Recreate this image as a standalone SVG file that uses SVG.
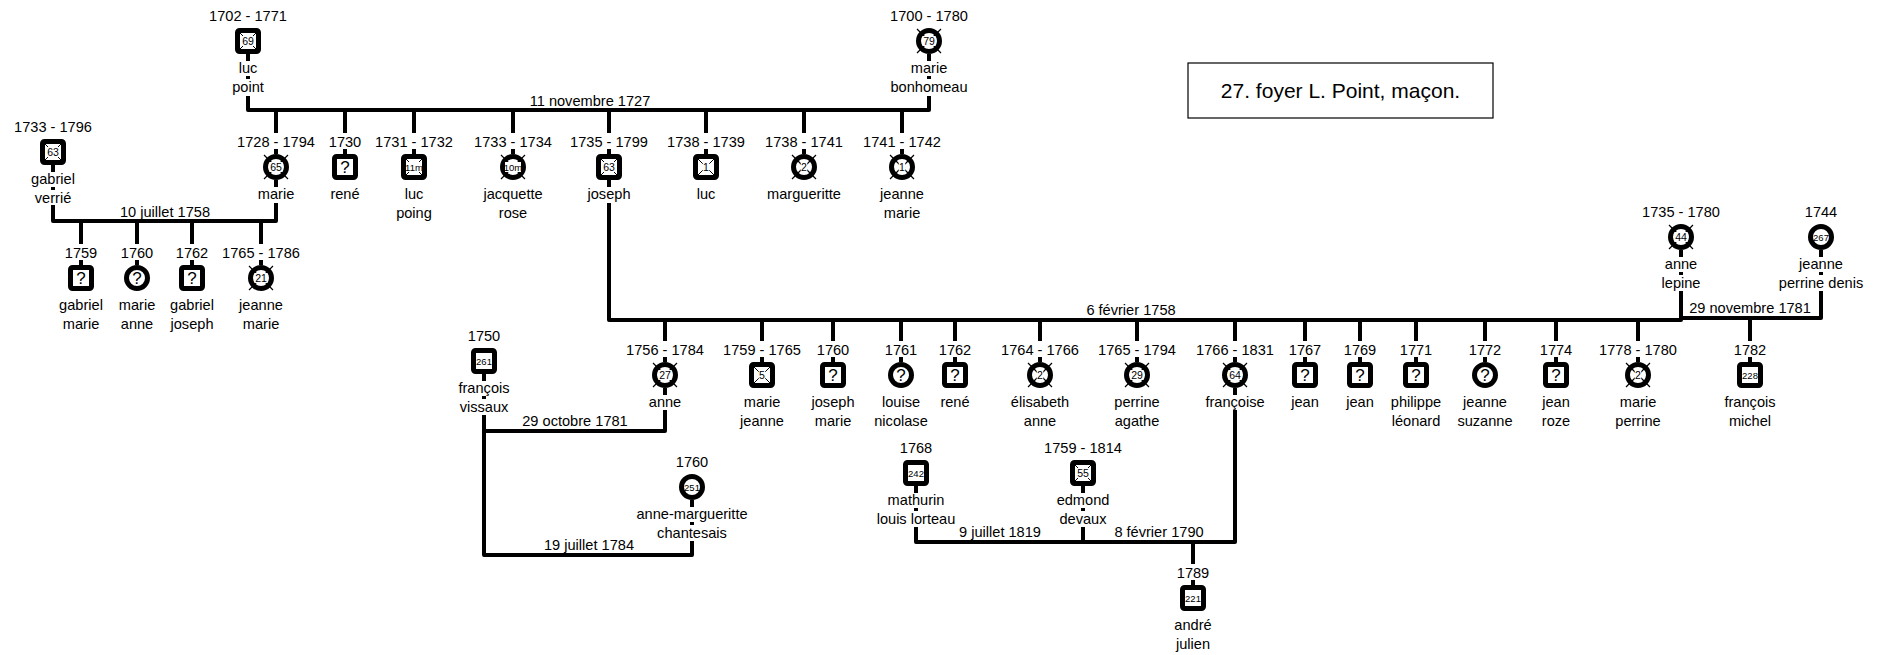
<svg xmlns="http://www.w3.org/2000/svg" width="1879" height="655" viewBox="0 0 1879 655">
<style>
.t{font-family:"Liberation Sans",Arial,sans-serif;font-size:14.6px;text-anchor:middle;fill:#000}
.n{font-family:"Liberation Sans",Arial,sans-serif;font-size:10.5px;text-anchor:middle;fill:#000}
.n3{font-size:9.5px}
.q{font-family:"Liberation Sans",Arial,sans-serif;font-size:17px;text-anchor:middle;fill:#000}
.ttl{font-family:"Liberation Sans",Arial,sans-serif;font-size:21px;text-anchor:middle;fill:#000}
.ln{stroke:#000;stroke-width:4;fill:none;stroke-linejoin:round}
.nb{fill:#fff}
</style>
<defs>
<rect id="sq" x="-10.5" y="-10.5" width="21" height="21" rx="2" fill="#fff" stroke="#000" stroke-width="5"/>
<circle id="ci" r="10.5" fill="#fff" stroke="#000" stroke-width="5"/>
<path id="sqx" d="M-8,-8L8,8M8,-8L-8,8" stroke="#000" stroke-width="1"/>
<path id="cix" d="M-12,-12L12,12M12,-12L-12,12" stroke="#000" stroke-width="1.2"/>
</defs>
<rect width="1879" height="655" fill="#fff"/>

<g id="title">
<rect x="1188" y="63" width="305" height="55" fill="#fff" stroke="#000" stroke-width="1.2"/>
<text class="ttl" x="1340.5" y="98">27. foyer L. Point, maçon.</text>
</g>

<g id="connectors">
<path class="ln" d="M248,54V61M248,76V79M929,54V61M929,76V79M248,96V110H929V96"/>
<path class="ln" d="M276,110V133M345,110V133M414,110V133M513,110V133M609,110V133M706,110V133M804,110V133M902,110V133"/>
<path class="ln" d="M276,149V154M345,149V154M414,149V154M513,149V154M609,149V154M706,149V154M804,149V154M902,149V154"/>
<path class="ln" d="M53,165V172M53,187V190M276,180V187M53,205V221H276V203"/>
<path class="ln" d="M81,221V244M137,221V244M192,221V244M261,221V244M81,260V265M137,260V265M192,260V265M261,260V265"/>
<path class="ln" d="M609,180V187M609,203V320H1681V291M1681,250V257M1681,272V275"/>
<path class="ln" d="M1681,318H1821V291M1821,250V257M1821,272V275"/>
<path class="ln" d="M665,320V341M762,320V341M833,320V341M901,320V341M955,320V341M1040,320V341M1137,320V341M1235,320V341M1305,320V341M1360,320V341M1416,320V341M1485,320V341M1556,320V341M1638,320V341M1750,318V341"/>
<path class="ln" d="M665,357V362M762,357V362M833,357V362M901,357V362M955,357V362M1040,357V362M1137,357V362M1235,357V362M1305,357V362M1360,357V362M1416,357V362M1485,357V362M1556,357V362M1638,357V362M1750,357V362"/>
<path class="ln" d="M484,374V381M484,396V399M484,415V555H692V541M692,500V507M692,522V525"/>
<path class="ln" d="M665,388V395M484,431H665V410"/>
<path class="ln" d="M916,486V493M916,508V511M1083,486V493M1083,508V511M1235,388V395M916,527V542H1235V410M1083,527V542"/>
<path class="ln" d="M1193,542V564M1193,580V585"/>
<text class="t" x="590" y="105.5">11 novembre 1727</text>
<text class="t" x="165" y="216.5">10 juillet 1758</text>
<text class="t" x="1131" y="315">6 février 1758</text>
<text class="t" x="1750" y="313">29 novembre 1781</text>
<text class="t" x="575" y="426">29 octobre 1781</text>
<text class="t" x="589" y="550">19 juillet 1784</text>
<text class="t" x="1000" y="537">9 juillet 1819</text>
<text class="t" x="1159" y="537">8 février 1790</text>
</g>

<g id="luc-point" transform="translate(248,41)"><text class="t" y="-20">1702 - 1771</text><use href="#sq"/><use href="#sqx"/><rect class="nb" x="-6.5" y="-5" width="13" height="10"/><text class="n" y="3.8">69</text><text class="t" y="32">luc</text><text class="t" y="51">point</text></g>
<g id="marie-bonhomeau" transform="translate(929,41)"><text class="t" y="-20">1700 - 1780</text><use href="#ci"/><use href="#cix"/><rect class="nb" x="-6.5" y="-5" width="13" height="10"/><text class="n" y="3.8">79</text><text class="t" y="32">marie</text><text class="t" y="51">bonhomeau</text></g>
<g id="gabriel-verrie" transform="translate(53,152)"><text class="t" y="-20">1733 - 1796</text><use href="#sq"/><use href="#sqx"/><rect class="nb" x="-6.5" y="-5" width="13" height="10"/><text class="n" y="3.8">63</text><text class="t" y="32">gabriel</text><text class="t" y="51">verrié</text></g>
<g id="marie" transform="translate(276,167)"><text class="t" y="-20">1728 - 1794</text><use href="#ci"/><use href="#cix"/><rect class="nb" x="-6.5" y="-5" width="13" height="10"/><text class="n" y="3.8">65</text><text class="t" y="32">marie</text></g>
<g id="rene-1730" transform="translate(345,167)"><text class="t" y="-20">1730</text><use href="#sq"/><text class="q" y="6">?</text><text class="t" y="32">rené</text></g>
<g id="luc-poing" transform="translate(414,167)"><text class="t" y="-20">1731 - 1732</text><use href="#sq"/><use href="#sqx"/><rect class="nb" x="-8" y="-5" width="16" height="10"/><text class="n n3" y="3.5">11m</text><text class="t" y="32">luc</text><text class="t" y="51">poing</text></g>
<g id="jacquette-rose" transform="translate(513,167)"><text class="t" y="-20">1733 - 1734</text><use href="#ci"/><use href="#cix"/><rect class="nb" x="-8" y="-5" width="16" height="10"/><text class="n n3" y="3.5">10m</text><text class="t" y="32">jacquette</text><text class="t" y="51">rose</text></g>
<g id="joseph" transform="translate(609,167)"><text class="t" y="-20">1735 - 1799</text><use href="#sq"/><use href="#sqx"/><rect class="nb" x="-6.5" y="-5" width="13" height="10"/><text class="n" y="3.8">63</text><text class="t" y="32">joseph</text></g>
<g id="luc" transform="translate(706,167)"><text class="t" y="-20">1738 - 1739</text><use href="#sq"/><use href="#sqx"/><rect class="nb" x="-3.3" y="-5" width="6.6" height="10"/><text class="n" y="3.8">1</text><text class="t" y="32">luc</text></g>
<g id="margueritte" transform="translate(804,167)"><text class="t" y="-20">1738 - 1741</text><use href="#ci"/><use href="#cix"/><rect class="nb" x="-3.3" y="-5" width="6.6" height="10"/><text class="n" y="3.8">2</text><text class="t" y="32">margueritte</text></g>
<g id="jeanne-marie-1741" transform="translate(902,167)"><text class="t" y="-20">1741 - 1742</text><use href="#ci"/><use href="#cix"/><rect class="nb" x="-3.3" y="-5" width="6.6" height="10"/><text class="n" y="3.8">1</text><text class="t" y="32">jeanne</text><text class="t" y="51">marie</text></g>

<g id="gabriel-marie" transform="translate(81,278)"><text class="t" y="-20">1759</text><use href="#sq"/><text class="q" y="6">?</text><text class="t" y="32">gabriel</text><text class="t" y="51">marie</text></g>
<g id="marie-anne" transform="translate(137,278)"><text class="t" y="-20">1760</text><use href="#ci"/><text class="q" y="6">?</text><text class="t" y="32">marie</text><text class="t" y="51">anne</text></g>
<g id="gabriel-joseph" transform="translate(192,278)"><text class="t" y="-20">1762</text><use href="#sq"/><text class="q" y="6">?</text><text class="t" y="32">gabriel</text><text class="t" y="51">joseph</text></g>
<g id="jeanne-marie-1765" transform="translate(261,278)"><text class="t" y="-20">1765 - 1786</text><use href="#ci"/><use href="#cix"/><rect class="nb" x="-6.5" y="-5" width="13" height="10"/><text class="n" y="3.8">21</text><text class="t" y="32">jeanne</text><text class="t" y="51">marie</text></g>

<g id="anne-lepine" transform="translate(1681,237)"><text class="t" y="-20">1735 - 1780</text><use href="#ci"/><use href="#cix"/><rect class="nb" x="-6.5" y="-5" width="13" height="10"/><text class="n" y="3.8">44</text><text class="t" y="32">anne</text><text class="t" y="51">lepine</text></g>
<g id="jeanne-perrine-denis" transform="translate(1821,237)"><text class="t" y="-20">1744</text><use href="#ci"/><text class="n n3" y="3.5">267</text><text class="t" y="32">jeanne</text><text class="t" y="51">perrine denis</text></g>

<g id="francois-vissaux" transform="translate(484,361)"><text class="t" y="-20">1750</text><use href="#sq"/><text class="n n3" y="3.5">261</text><text class="t" y="32">françois</text><text class="t" y="51">vissaux</text></g>
<g id="anne" transform="translate(665,375)"><text class="t" y="-20">1756 - 1784</text><use href="#ci"/><use href="#cix"/><rect class="nb" x="-6.5" y="-5" width="13" height="10"/><text class="n" y="3.8">27</text><text class="t" y="32">anne</text></g>
<g id="marie-jeanne" transform="translate(762,375)"><text class="t" y="-20">1759 - 1765</text><use href="#sq"/><use href="#sqx"/><rect class="nb" x="-3.3" y="-5" width="6.6" height="10"/><text class="n" y="3.8">5</text><text class="t" y="32">marie</text><text class="t" y="51">jeanne</text></g>
<g id="joseph-marie" transform="translate(833,375)"><text class="t" y="-20">1760</text><use href="#sq"/><text class="q" y="6">?</text><text class="t" y="32">joseph</text><text class="t" y="51">marie</text></g>
<g id="louise-nicolase" transform="translate(901,375)"><text class="t" y="-20">1761</text><use href="#ci"/><text class="q" y="6">?</text><text class="t" y="32">louise</text><text class="t" y="51">nicolase</text></g>
<g id="rene-1762" transform="translate(955,375)"><text class="t" y="-20">1762</text><use href="#sq"/><text class="q" y="6">?</text><text class="t" y="32">rené</text></g>
<g id="elisabeth-anne" transform="translate(1040,375)"><text class="t" y="-20">1764 - 1766</text><use href="#ci"/><use href="#cix"/><rect class="nb" x="-3.3" y="-5" width="6.6" height="10"/><text class="n" y="3.8">2</text><text class="t" y="32">élisabeth</text><text class="t" y="51">anne</text></g>
<g id="perrine-agathe" transform="translate(1137,375)"><text class="t" y="-20">1765 - 1794</text><use href="#ci"/><use href="#cix"/><rect class="nb" x="-6.5" y="-5" width="13" height="10"/><text class="n" y="3.8">29</text><text class="t" y="32">perrine</text><text class="t" y="51">agathe</text></g>
<g id="francoise" transform="translate(1235,375)"><text class="t" y="-20">1766 - 1831</text><use href="#ci"/><use href="#cix"/><rect class="nb" x="-6.5" y="-5" width="13" height="10"/><text class="n" y="3.8">64</text><text class="t" y="32">françoise</text></g>
<g id="jean-1767" transform="translate(1305,375)"><text class="t" y="-20">1767</text><use href="#sq"/><text class="q" y="6">?</text><text class="t" y="32">jean</text></g>
<g id="jean-1769" transform="translate(1360,375)"><text class="t" y="-20">1769</text><use href="#sq"/><text class="q" y="6">?</text><text class="t" y="32">jean</text></g>
<g id="philippe-leonard" transform="translate(1416,375)"><text class="t" y="-20">1771</text><use href="#sq"/><text class="q" y="6">?</text><text class="t" y="32">philippe</text><text class="t" y="51">léonard</text></g>
<g id="jeanne-suzanne" transform="translate(1485,375)"><text class="t" y="-20">1772</text><use href="#ci"/><text class="q" y="6">?</text><text class="t" y="32">jeanne</text><text class="t" y="51">suzanne</text></g>
<g id="jean-roze" transform="translate(1556,375)"><text class="t" y="-20">1774</text><use href="#sq"/><text class="q" y="6">?</text><text class="t" y="32">jean</text><text class="t" y="51">roze</text></g>
<g id="marie-perrine" transform="translate(1638,375)"><text class="t" y="-20">1778 - 1780</text><use href="#ci"/><use href="#cix"/><rect class="nb" x="-3.3" y="-5" width="6.6" height="10"/><text class="n" y="3.8">2</text><text class="t" y="32">marie</text><text class="t" y="51">perrine</text></g>
<g id="francois-michel" transform="translate(1750,375)"><text class="t" y="-20">1782</text><use href="#sq"/><text class="n n3" y="3.5">228</text><text class="t" y="32">françois</text><text class="t" y="51">michel</text></g>

<g id="anne-margueritte" transform="translate(692,487)"><text class="t" y="-20">1760</text><use href="#ci"/><text class="n n3" y="3.5">251</text><text class="t" y="32">anne-margueritte</text><text class="t" y="51">chantesais</text></g>
<g id="mathurin" transform="translate(916,473)"><text class="t" y="-20">1768</text><use href="#sq"/><text class="n n3" y="3.5">242</text><text class="t" y="32">mathurin</text><text class="t" y="51">louis lorteau</text></g>
<g id="edmond-devaux" transform="translate(1083,473)"><text class="t" y="-20">1759 - 1814</text><use href="#sq"/><use href="#sqx"/><rect class="nb" x="-6.5" y="-5" width="13" height="10"/><text class="n" y="3.8">55</text><text class="t" y="32">edmond</text><text class="t" y="51">devaux</text></g>
<g id="andre-julien" transform="translate(1193,598)"><text class="t" y="-20">1789</text><use href="#sq"/><text class="n n3" y="3.5">221</text><text class="t" y="32">andré</text><text class="t" y="51">julien</text></g>
</svg>
